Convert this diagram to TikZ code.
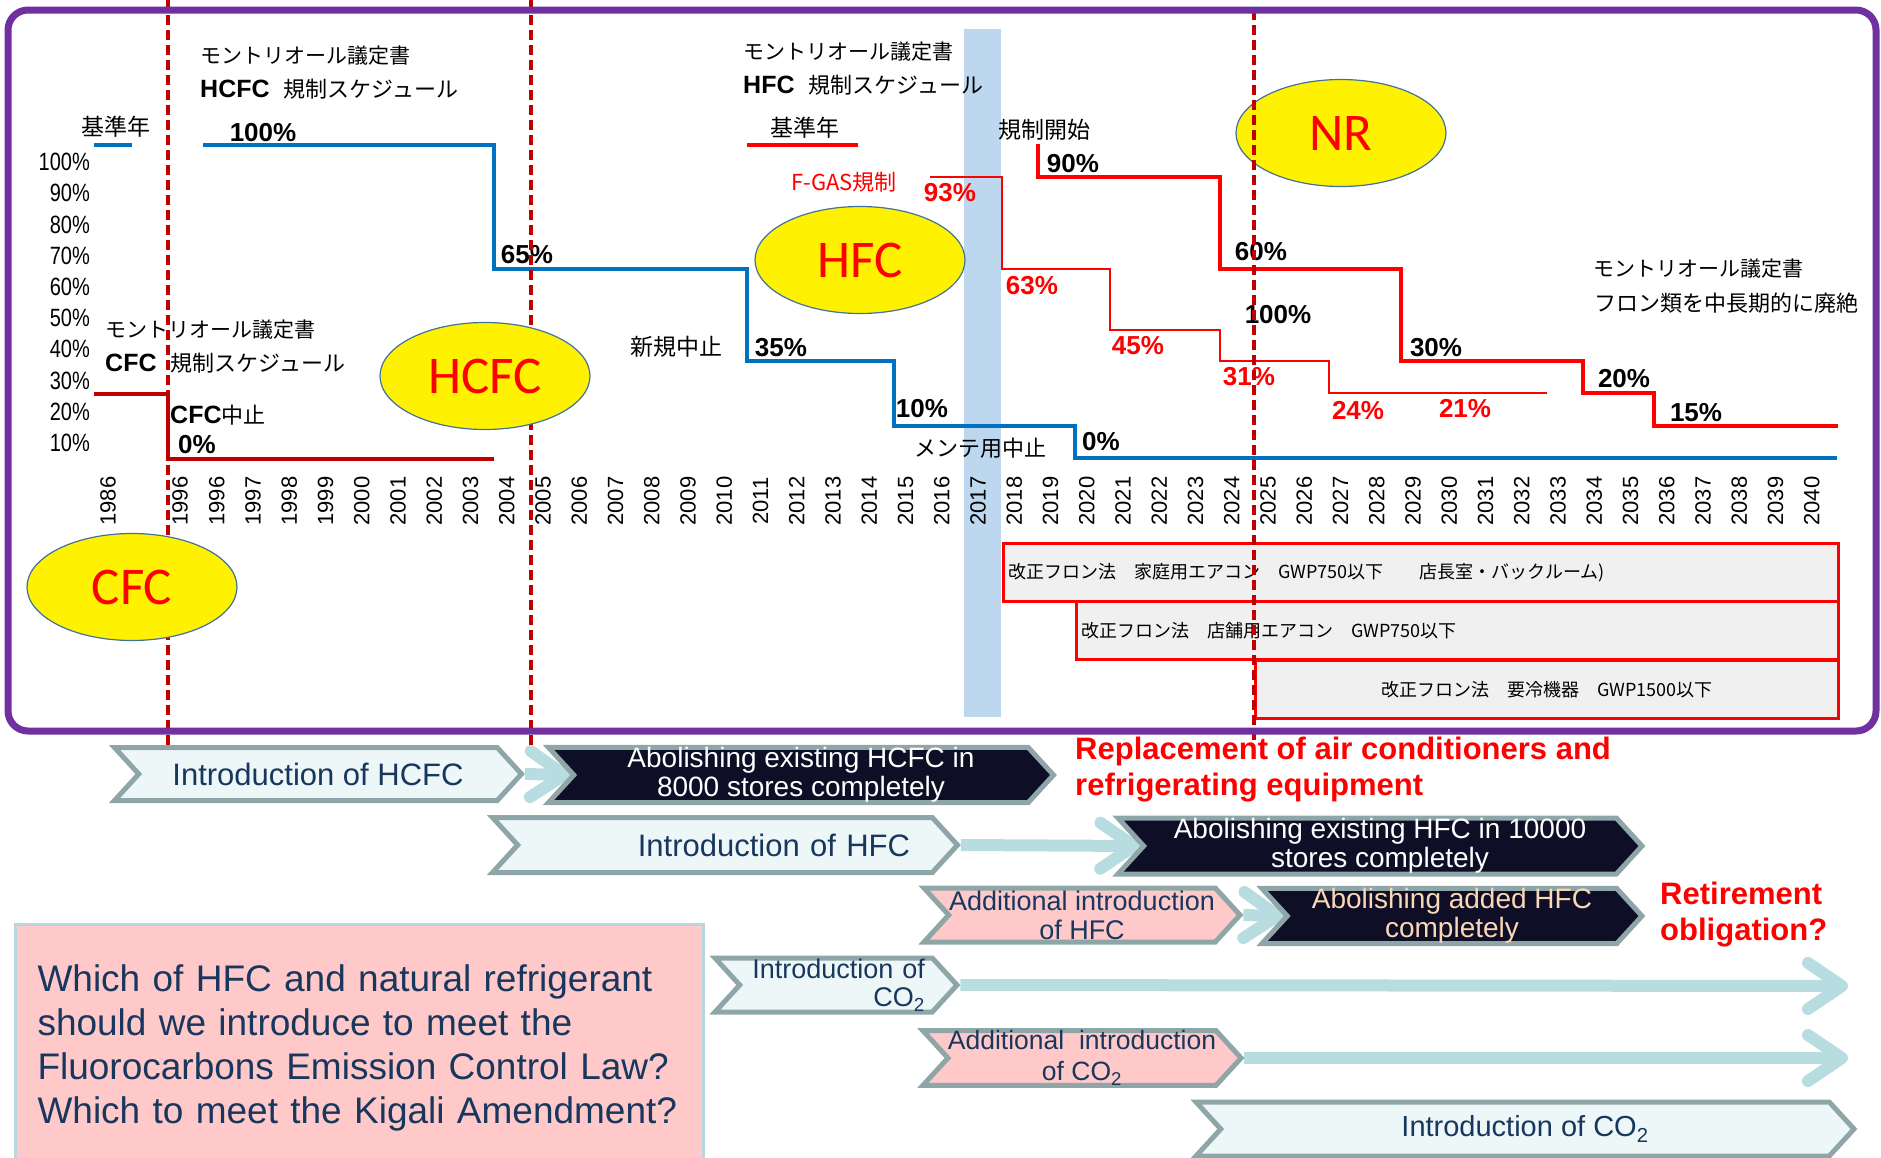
\documentclass[tikz,border=0pt]{standalone}
\usepackage{fontspec}
\setmainfont{Liberation Sans}
\newfontfamily\jpfont{Noto Sans CJK JP}
\newfontfamily\calfont{Carlito}
\newfontfamily\narrowfont[FakeStretch=0.8]{Liberation Sans}
\usepackage{tikz}
\usetikzlibrary{arrows.meta,shapes.geometric,shapes.symbols}
\definecolor{framepurple}{HTML}{7030A0}
\definecolor{hcfcblue}{HTML}{0070C0}
\definecolor{cfcred}{HTML}{C00000}
\definecolor{hfcred}{HTML}{FF0000}
\definecolor{bandblue}{HTML}{BDD7EE}
\definecolor{ovalline}{HTML}{41719C}
\definecolor{lawgray}{HTML}{F0F0F0}
\definecolor{chevline}{HTML}{8FA6A8}
\definecolor{chevlight}{HTML}{EEF7F7}
\definecolor{chevdark}{HTML}{0E0E26}
\definecolor{chevpink}{HTML}{FFC9C9}
\definecolor{flowteal}{HTML}{B7DDE0}
\definecolor{navytext}{HTML}{17375E}
\definecolor{peachtext}{HTML}{FAD7B5}
\definecolor{qboxline}{HTML}{B6D8DC}
\newcommand{\boldtag}[1]{{\rmfamily\bfseries\fontsize{25}{25}\selectfont #1}}
\pgfdeclarelayer{background}
\pgfsetlayers{background,main}
\tikzset{
  pct/.style={inner sep=0pt,font=\bfseries\fontsize{26}{26}\selectfont},
  redpct/.style={pct,text=hfcred},
  jptext/.style={inner sep=0pt,font=\jpfont\fontsize{22}{22}\selectfont},
  yearlbl/.style={inner sep=0pt,rotate=90,font=\fontsize{22}{22}\selectfont},
  axislbl/.style={inner sep=0pt,anchor=east,font=\narrowfont\fontsize{25}{25}\selectfont},
  oval/.style={ellipse,draw=ovalline,line width=1.2pt,fill=yellow,text=red,
    minimum width=210pt,minimum height=107pt,inner sep=0pt,
    font=\calfont\fontsize{53}{53}\selectfont},
  lawbox/.style={draw=hfcred,line width=2.5pt,fill=lawgray,anchor=north west,
    minimum height=58pt,inner ysep=0pt,inner xsep=5pt,
    font=\jpfont\fontsize{18}{18}\selectfont},
  sched/.style={line width=3.5pt},
  phaseline/.style={draw=cfcred,line width=3.5pt,dash pattern=on 10pt off 5pt},
  chev/.style={signal,signal from=west,signal to=east,signal pointer angle=95,
    draw=chevline,line width=5pt,inner sep=0pt,align=center},
  lightchev/.style={chev,fill=chevlight,text=navytext},
  pinkchev/.style={chev,fill=chevpink,text=navytext},
  darkchev/.style={chev,fill=chevdark,text=white},
  flowarrow/.style={draw=flowteal,line width=12pt,
    -{Straight Barb[length=34pt,width=46pt,round]}},
  warnnote/.style={inner sep=0pt,anchor=west,align=left,text=hfcred,
    font=\bfseries\fontsize{31}{36}\selectfont},
  qbox/.style={draw=qboxline,line width=3pt,fill=chevpink,anchor=north west,
    text width=644pt,inner xsep=22pt,minimum height=246pt,align=left,
    text=navytext,font=\fontsize{37}{44}\selectfont}
}

\begin{document}
\begin{tikzpicture}[x=1pt,y=-1pt]
\useasboundingbox (0,0) rectangle (1881,1157);

\fill[bandblue] (964,29) rectangle (1001,717);
\node[lawbox,text width=825pt,align=left] (law1) at (1002,542) {改正フロン法　家庭用エアコン　GWP750以下　　店長室・バックルーム)};
\node[lawbox,text width=752pt,align=left] (law2) at (1075,600) {改正フロン法　店舗用エアコン　GWP750以下};
\node[lawbox,text width=573pt,align=center] (law3) at (1254,659) {改正フロン法　要冷機器　GWP1500以下};

\foreach \p [count=\i from 0] in {100,90,...,10}
  \node[axislbl] (ax\p) at (90,{162+31.2*\i}) {\p\%};
\node[yearlbl] (yr1986) at (108,501) {1986};
\node[yearlbl] (yr1996a) at (180,501) {1996};
\foreach \yr in {1996,...,2040}
  \node[yearlbl] (yr\yr) at ({108+36.25*(\yr-1993)},501) {\yr};

\draw[sched,hcfcblue] (94,145) -- (132,145);
\draw[sched,hcfcblue] (203,145) -| (494,269) -| (747,361) -| (894,426) -| (1075,458) -- (1837,458);
\draw[sched,cfcred] (94,394) -| (168,459) -- (494,459);
\draw[sched,hfcred] (747,145) -- (858,145);
\draw[hfcred,line width=2.2pt] (930,177) -| (1002,269) -| (1110,330) -| (1220,361) -| (1329,393) -- (1547,393);
\draw[sched,hfcred] (1038,144) |- (1220,177) |- (1401,269) |- (1583,361) |- (1654,393) |- (1838,426);

\node[jptext,anchor=west,font=\jpfont\fontsize{21}{21}\selectfont] (montHCFC) at (200,56) {モントリオール議定書};
\node[jptext,anchor=west] (schedHCFC) at (200,89) {\boldtag{HCFC}\hspace{14pt}規制スケジュール};
\node[jptext,font=\jpfont\fontsize{23}{23}\selectfont] (baseHCFC) at (116,127) {基準年};
\node[jptext,anchor=west,font=\jpfont\fontsize{21}{21}\selectfont] (montCFC) at (105,330) {モントリオール議定書};
\node[jptext,anchor=west] (schedCFC) at (105,363) {\boldtag{CFC}\hspace{14pt}規制スケジュール};
\node[jptext,anchor=west] (stopCFC) at (170,415) {\boldtag{CFC}中止};
\node[jptext,anchor=west,font=\jpfont\fontsize{21}{21}\selectfont] (montHFC) at (743,52) {モントリオール議定書};
\node[jptext,anchor=west] (schedHFC) at (743,85) {\boldtag{HFC}\hspace{14pt}規制スケジュール};
\node[jptext,font=\jpfont\fontsize{23}{23}\selectfont] (baseHFC) at (805,128) {基準年};
\node[jptext,font=\jpfont\fontsize{23}{23}\selectfont] (startHFC) at (1044,130) {規制開始};
\node[jptext,text=hfcred] (fgas) at (844,182) {F-GAS規制};
\node[jptext,font=\jpfont\fontsize{23}{23}\selectfont] (newstop) at (676,347) {新規中止};
\node[jptext] (maintstop) at (980,448) {メンテ用中止};
\node[jptext,anchor=west,font=\jpfont\fontsize{21}{21}\selectfont] (montAll) at (1593,269) {モントリオール議定書};
\node[jptext,anchor=west] (phaseout) at (1594,303) {フロン類を中長期的に廃絶};

\node[pct] (p100a) at (263,133) {100\%};
\node[pct] (p65) at (527,255) {65\%};
\node[pct] (p35) at (781,348) {35\%};
\node[pct] (p10) at (922,409) {10\%};
\node[pct] (p0b) at (1101,442) {0\%};
\node[pct] (p0a) at (197,445) {0\%};
\node[pct] (p90) at (1073,164) {90\%};
\node[pct] (p60) at (1261,252) {60\%};
\node[pct] (p100k) at (1278,315) {100\%};
\node[pct] (p30) at (1436,348) {30\%};
\node[pct] (p20) at (1624,379) {20\%};
\node[pct] (p15) at (1696,413) {15\%};
\node[redpct] (p93) at (950,193) {93\%};
\node[redpct] (p63) at (1032,286) {63\%};
\node[redpct] (p45) at (1138,346) {45\%};
\node[redpct] (p31) at (1249,377) {31\%};
\node[redpct] (p24) at (1358,411) {24\%};
\node[redpct] (p21) at (1465,409) {21\%};

\node[oval] (nr) at (1341,133) {NR};
\draw[phaseline] (168,0) -- (168,745);
\draw[phaseline] (531,0) -- (531,745);
\draw[phaseline] (1254,10) -- (1254,745);
\node[oval] (hcfc) at (485,376) {HCFC};
\node[oval] (hfc) at (860,260) {HFC};
\node[oval] (cfc) at (132,587) {CFC};

\draw[framepurple,line width=7pt,rounded corners=20pt] (8,10) rectangle (1876,731);

\node[lightchev,minimum width=407pt,minimum height=53pt,font=\fontsize{31}{31}\selectfont] (intHCFC) at (318,774) {Introduction of HCFC};
\node[darkchev,minimum width=505pt,minimum height=53pt,font=\fontsize{28}{29}\selectfont] (abolHCFC) at (801,775) {Abolishing existing HCFC in\\8000 stores completely};
\node[lightchev,minimum width=465pt,minimum height=55pt,text width=370pt,align=right,font=\fontsize{31}{31}\selectfont] (intHFC) at (725,845) {Introduction of HFC};
\node[darkchev,minimum width=524pt,minimum height=56pt,font=\fontsize{28}{29}\selectfont] (abolHFC) at (1380,846) {Abolishing existing HFC in 10000\\stores completely};
\node[pinkchev,minimum width=316pt,minimum height=54pt,font=\fontsize{27}{29}\selectfont] (addHFC) at (1082,915) {Additional introduction\\of HFC};
\node[darkchev,minimum width=380pt,minimum height=54pt,text=peachtext,font=\fontsize{28}{29}\selectfont] (abolAdd) at (1452,916) {Abolishing added HFC\\completely};
\node[lightchev,minimum width=242pt,minimum height=54pt,text width=178pt,align=right,font=\fontsize{27}{28}\selectfont] (intCO2a) at (836,985) {Introduction of\\CO\textsubscript{2}};
\node[pinkchev,minimum width=316pt,minimum height=54pt,font=\fontsize{26.5}{31}\selectfont] (addCO2) at (1082,1058) {Additional\ \ introduction\\of CO\textsubscript{2}};
\node[lightchev,minimum width=658pt,minimum height=54pt,font=\fontsize{29}{29}\selectfont] (intCO2b) at (1525,1129) {Introduction of CO\textsubscript{2}};
\coordinate (end4) at (1848,986);
\coordinate (end5) at (1848,1058);

\begin{pgfonlayer}{background}
\draw[flowarrow] (intHCFC.east) -- (abolHCFC.west);
\draw[flowarrow] (intHFC.east) -- (abolHFC.west);
\draw[flowarrow] (addHFC.east) -- (abolAdd.west);
\draw[flowarrow] (intCO2a.east) -- (end4);
\draw[flowarrow] (addCO2.east) -- (end5);
\end{pgfonlayer}

\node[warnnote] (replace) at (1075,770) {Replacement of air conditioners and\\refrigerating equipment};
\node[warnnote] (retire) at (1660,915) {Retirement\\obligation?};
\node[qbox] (question) at (14,923) {Which of HFC and natural refrigerant\\should we introduce to meet the\\Fluorocarbons Emission Control Law?\\Which to meet the Kigali Amendment?};
\end{tikzpicture}
\end{document}
